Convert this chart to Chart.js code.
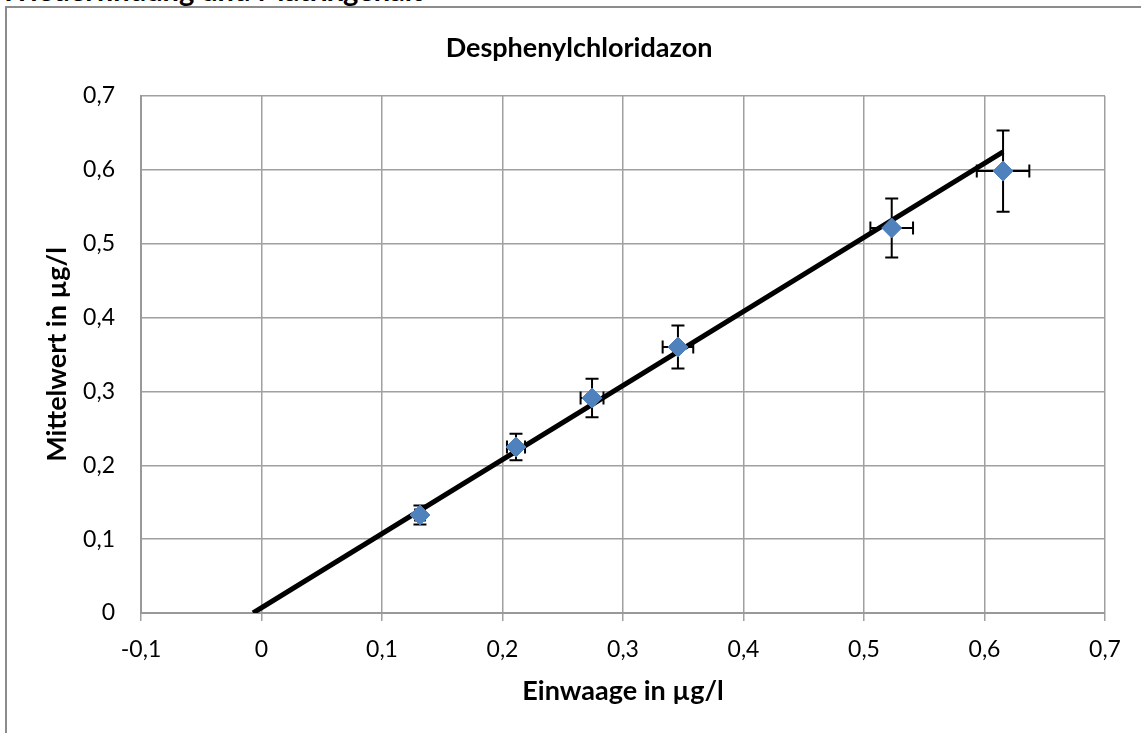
<!DOCTYPE html>
<html>
<head>
<meta charset="utf-8">
<script src="https://cdn.jsdelivr.net/npm/chart.js@4"></script>
<style>
  html, body { margin: 0; padding: 0; background: #fff; overflow: hidden; }
  #wrap { position: relative; width: 1141px; height: 733px; }
  #frame { position: absolute; left: 5px; top: 6px; width: 1200px; height: 800px; border: 2px solid #8c8c8c; box-sizing: border-box; }
  #head { position: absolute; left: 0px; top: -25.5px; font: bold 29px Lato, sans-serif; line-height: 29px; color: #000; white-space: nowrap; }
  canvas { position: absolute; left: 0; top: 0; }
</style>
</head>
<body>
<div id="wrap">
  <div id="head">Wiederfindung und Matrixgehalt</div>
  <div id="frame"></div>
  <canvas id="c" width="1141" height="733"></canvas>
</div>
<script>
const chartTitle = "Desphenylchloridazon";
const xTitle = "Einwaage in µg/l";
const yTitle = "Mittelwert in µg/l";
const einwaage   = [0.1315, 0.2112, 0.2743, 0.3456, 0.5230, 0.6154];
const mittelwert = [0.1327, 0.2248, 0.2910, 0.3601, 0.5213, 0.5984];
const yErr       = [0.013, 0.018, 0.026, 0.029, 0.040, 0.055];
const xErr       = [0.004, 0.0075, 0.0095, 0.0127, 0.0177, 0.0218];
const trendX = [-0.007, 0.6154];
const trendY = [0, 0.6245];
const xMin = -0.1, xMax = 0.7, yMin = 0, yMax = 0.7, step = 0.1;

const fmt = v => { const r = Math.round(v * 10) / 10; return r === 0 ? "0" : r.toFixed(1).replace('.', ','); };
const FONT = "Lato, 'Open Sans', sans-serif";

const errorBars = {
  id: 'errorBars',
  beforeDatasetDraw(chart, args) {
    if (args.index !== 0) return;
    const xs = chart.scales.x, ys = chart.scales.y, ctx = chart.ctx;
    ctx.save();
    ctx.strokeStyle = '#000';
    ctx.lineWidth = 2;
    const cap = 6.5;
    einwaage.forEach((xv, i) => {
      const px = xs.getPixelForValue(xv), py = ys.getPixelForValue(mittelwert[i]);
      const y1 = ys.getPixelForValue(mittelwert[i] + yErr[i]);
      const y2 = ys.getPixelForValue(mittelwert[i] - yErr[i]);
      const x1 = xs.getPixelForValue(xv - xErr[i]);
      const x2 = xs.getPixelForValue(xv + xErr[i]);
      ctx.beginPath();
      ctx.moveTo(px, y1); ctx.lineTo(px, y2);
      ctx.moveTo(px - cap, y1); ctx.lineTo(px + cap, y1);
      ctx.moveTo(px - cap, y2); ctx.lineTo(px + cap, y2);
      ctx.moveTo(x1, py); ctx.lineTo(x2, py);
      ctx.moveTo(x1, py - cap); ctx.lineTo(x1, py + cap);
      ctx.moveTo(x2, py - cap); ctx.lineTo(x2, py + cap);
      ctx.stroke();
    });
    ctx.restore();
  }
};

const titleDraw = {
  id: 'titleDraw',
  afterDraw(chart) {
    const ctx = chart.ctx;
    ctx.save();
    ctx.font = "bold 27px " + FONT;
    ctx.fillStyle = '#000';
    ctx.textAlign = 'center';
    ctx.textBaseline = 'middle';
    ctx.fillText(chartTitle, 579, 48);
    ctx.restore();
  }
};

new Chart(document.getElementById('c'), {
  type: 'scatter',
  data: {
    datasets: [
      {
        label: 'Messwerte',
        data: einwaage.map((x, i) => ({ x, y: mittelwert[i] })),
        pointStyle: 'rectRot',
        pointRadius: 10,
        pointHoverRadius: 10,
        backgroundColor: '#4F81BD',
        borderColor: '#4F81BD',
        borderWidth: 1
      },
      {
        label: 'Trend',
        type: 'line',
        data: trendX.map((x, i) => ({ x, y: trendY[i] })),
        borderColor: '#000',
        borderWidth: 5,
        pointRadius: 0,
        fill: false,
        tension: 0
      }
    ]
  },
  plugins: [errorBars, titleDraw],
  options: {
    responsive: false,
    animation: false,
    events: [],
    layout: { padding: { left: 0, right: 36, top: 96, bottom: 0 } },
    plugins: {
      legend: { display: false },
      tooltip: { enabled: false },
      title: { display: false }
    },
    scales: {
      x: {
        type: 'linear',
        min: xMin, max: xMax,
        afterFit(s) { s.height = 120; },
        border: { color: '#999', width: 2 },
        grid: { color: '#a0a0a0', lineWidth: 1.5, drawTicks: true, tickLength: 8, tickColor: '#a0a0a0' },
        ticks: { stepSize: step, color: '#000', padding: 15, font: { family: FONT, size: 23 }, callback: v => fmt(v) },
        title: { display: true, text: xTitle, color: '#000', font: { family: FONT, size: 27, weight: 'bold', lineHeight: 1.2 }, padding: { top: 0, bottom: 25.8 } }
      },
      y: {
        type: 'linear',
        min: yMin, max: yMax,
        afterFit(s) { s.width = 141; },
        border: { color: '#999', width: 2 },
        grid: { color: '#a0a0a0', lineWidth: 1.5, drawTicks: false },
        ticks: { stepSize: step, color: '#000', padding: 26, font: { family: FONT, size: 23 }, callback: v => fmt(v) },
        title: { display: true, text: yTitle, color: '#000', font: { family: FONT, size: 27, weight: 'bold', lineHeight: 1.2 }, padding: { top: 40.8, bottom: 0 } }
      }
    }
  }
});
</script>
</body>
</html>
